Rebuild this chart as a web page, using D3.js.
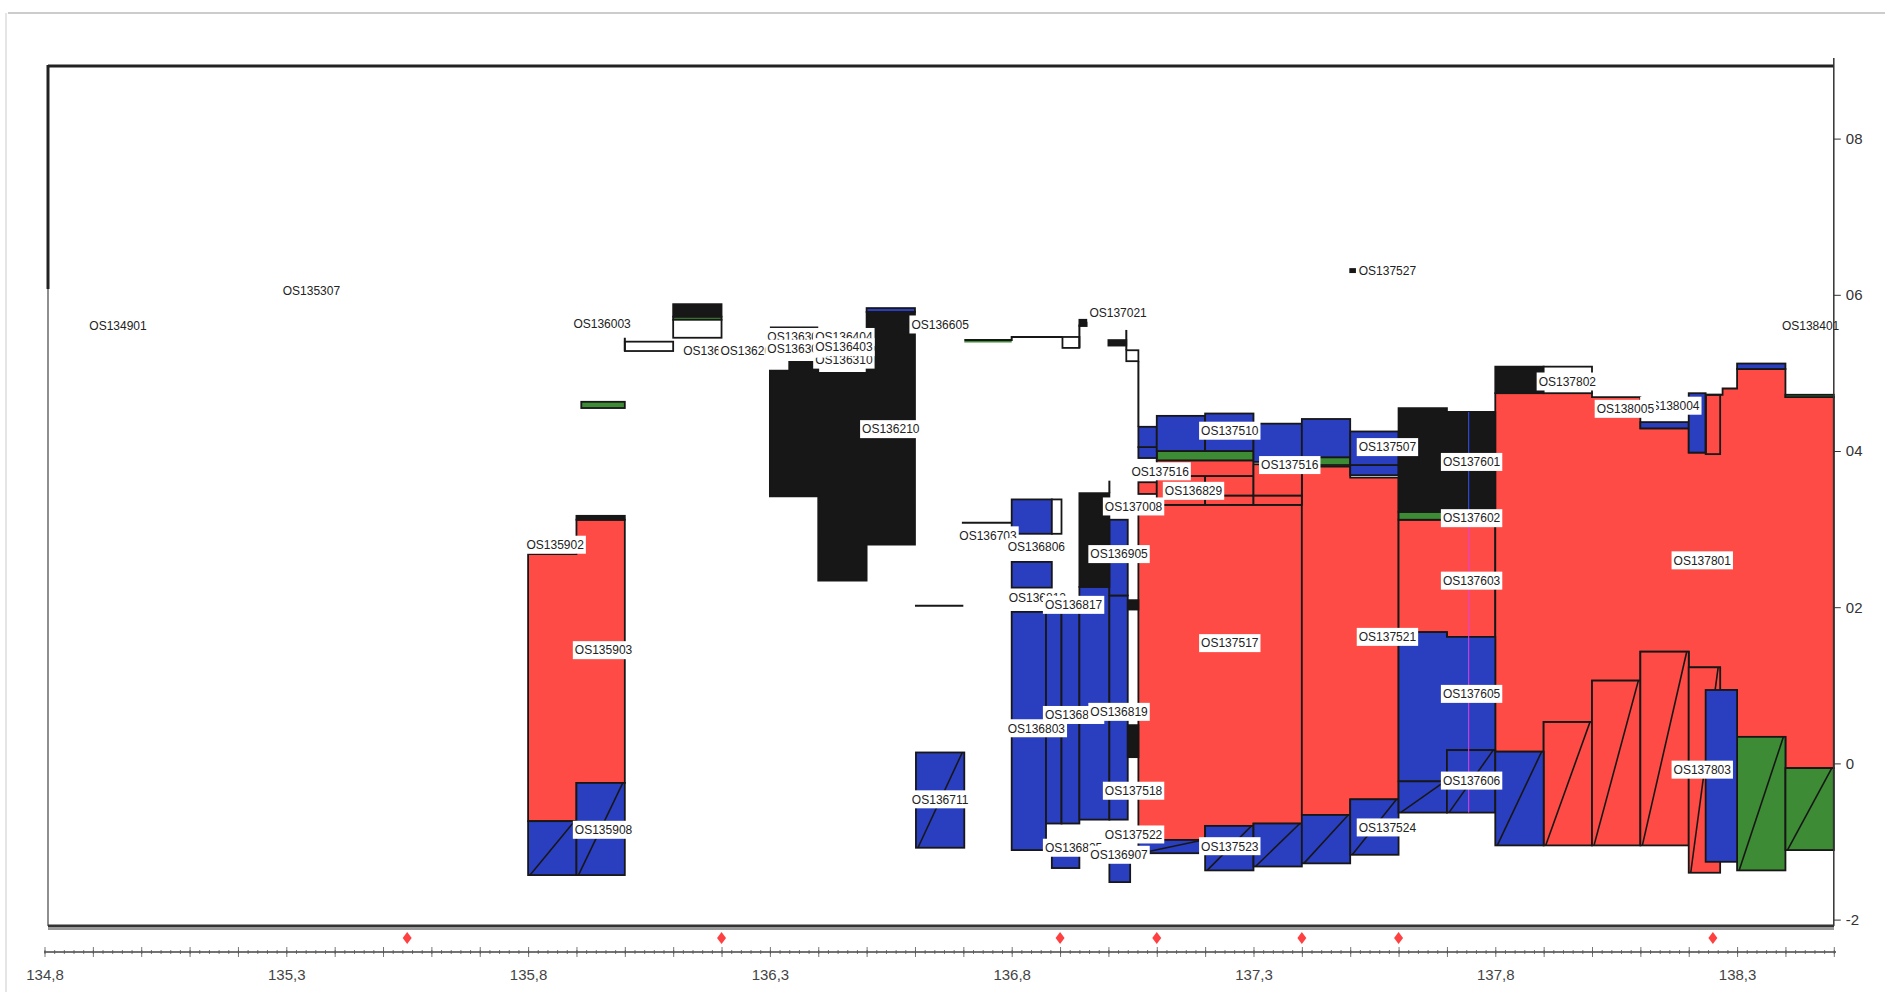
<!DOCTYPE html>
<html>
<head>
<meta charset="utf-8">
<script src="https://cdn.jsdelivr.net/npm/d3@7"></script>
<style>
body { margin: 0; background: #fff; }
text { font-family: "Liberation Sans", Arial, sans-serif; }
</style>
</head>
<body>
<svg id="chart" width="1885" height="992"></svg>
<script>
// axis values
const xTickValues = [134.8, 135.3, 135.8, 136.3, 136.8, 137.3, 137.8, 138.3];
const xTickLabels = ["134,8", "135,3", "135,8", "136,3", "136,8", "137,3", "137,8", "138,3"];
const yTickValues = [8, 6, 4, 2, 0, -2];
const yTickLabels = ["08", "06", "04", "02", "0", "-2"];
const sampleMarks = [135.55, 136.2, 136.9, 137.1, 137.4, 137.6, 138.25];

// big stepped units, [x, y] corners
const redMasses = [
  [[135.80,2.68],[135.90,2.68],[135.90,3.12],[136.00,3.12],[136.00,-0.25],[135.90,-0.25],[135.90,-0.74],[135.80,-0.74]],
  [[137.062,3.31],[137.40,3.31],[137.40,-0.77],[137.30,-0.77],[137.30,-0.80],[137.20,-0.80],[137.20,-0.98],[137.062,-0.98]],
  [[137.40,3.80],[137.50,3.80],[137.50,3.66],[137.60,3.66],[137.60,-0.46],[137.50,-0.46],[137.50,-0.66],[137.40,-0.66]],
  [[137.60,3.12],[137.70,3.12],[137.70,3.15],[137.80,3.15],[137.80,1.62],[137.70,1.62],[137.70,1.68],[137.60,1.68]],
  [[137.80,4.74],[138.00,4.74],[138.00,4.69],[138.10,4.69],[138.10,4.29],[138.20,4.29],[138.20,3.98],[138.235,3.98],
   [138.235,4.72],[138.27,4.72],[138.27,4.80],[138.30,4.80],[138.30,5.05],[138.40,5.05],[138.40,4.69],[138.50,4.69],
   [138.50,-0.06],[138.40,-0.06],[138.40,0.34],[138.30,0.34],[138.30,0.94],[138.265,0.94],[138.265,1.23],[138.20,1.23],
   [138.20,1.43],[138.10,1.43],[138.10,1.06],[138.00,1.06],[138.00,0.53],[137.90,0.53],[137.90,0.15],[137.80,0.15]]
];
const blueMasses = [
  [[137.60,1.68],[137.70,1.68],[137.70,1.62],[137.80,1.62],[137.80,0.17],[137.70,0.17],[137.70,-0.23],[137.60,-0.23]]
];
const blackMasses = [
  [[136.30,5.03],[136.34,5.03],[136.34,5.14],[136.40,5.14],[136.40,5.00],[136.50,5.00],[136.50,5.78],[136.60,5.78],
   [136.60,2.80],[136.50,2.80],[136.50,2.34],[136.40,2.34],[136.40,3.42],[136.30,3.42]],
  [[137.60,4.55],[137.70,4.55],[137.70,4.50],[137.80,4.50],[137.80,3.15],[137.70,3.15],[137.70,3.22],[137.60,3.22]]
];

// beds: [x0, x1, bottom, top]
const redRects = [
  [137.062,137.10,3.45,3.60], [137.10,137.20,3.31,3.68], [137.20,137.30,3.31,3.43], [137.20,137.30,3.43,3.68],
  [137.10,137.30,3.68,3.88], [137.30,137.40,3.31,3.43], [137.30,137.40,3.43,3.83]
];
const redHatch = [
  [137.90,138.00,-1.05,0.53], [138.00,138.10,-1.05,1.06], [138.10,138.20,-1.05,1.43], [138.20,138.265,-1.40,1.23]
];
const greenRects = [
  [135.91,136.00,4.55,4.63], [136.10,136.20,5.68,5.72], [137.10,137.30,3.88,4.00],
  [137.40,137.50,3.82,3.92], [137.60,137.70,3.12,3.22], [138.40,138.50,4.69,4.72]
];
const greenHatch = [
  [138.30,138.40,-1.37,0.34], [138.40,138.50,-1.11,-0.06]
];
const blueRects = [
  [136.80,136.883,2.94,3.38], [136.80,136.883,2.25,2.58], [136.80,136.871,-1.11,1.94], [136.871,136.903,-0.77,1.94],
  [136.903,136.94,-0.77,1.94], [136.94,137.002,-0.72,2.26], [137.002,137.04,-0.72,2.15], [137.002,137.04,2.15,3.12],
  [136.883,136.94,-1.34,-1.15], [137.002,137.045,-1.52,-1.23],
  [137.062,137.10,3.91,4.05], [137.062,137.10,4.05,4.31], [137.10,137.20,4.00,4.45], [137.20,137.30,4.00,4.48],
  [137.30,137.40,3.86,4.35], [137.40,137.50,3.92,4.41], [137.50,137.60,3.69,3.82], [137.50,137.60,3.82,4.25],
  [136.50,136.60,5.78,5.83], [138.10,138.20,4.29,4.37], [138.20,138.235,3.98,4.74], [138.30,138.40,5.05,5.12],
  [138.235,138.30,-1.26,0.94]
];
const blueHatch = [
  [135.80,135.90,-1.43,-0.74], [135.90,136.00,-1.43,-0.25], [136.602,136.702,-1.08,0.14],
  [137.062,137.20,-1.15,-0.98], [137.20,137.30,-1.37,-0.80], [137.30,137.40,-1.32,-0.77],
  [137.40,137.50,-1.28,-0.66], [137.50,137.60,-1.17,-0.46], [137.60,137.70,-0.63,-0.23],
  [137.70,137.80,-0.63,0.17], [137.80,137.90,-1.05,0.15]
];
const blackRects = [
  [135.90,136.00,3.12,3.17], [136.10,136.20,5.72,5.88], [136.94,137.002,2.26,3.46], [137.04,137.062,1.97,2.09],
  [137.04,137.062,0.08,0.49], [137.00,137.037,5.35,5.42], [136.94,136.955,5.60,5.68], [137.80,137.90,4.74,5.08],
  [137.50,137.51,6.29,6.33]
];
const hollowRects = [
  [136.00,136.10,5.28,5.40], [136.10,136.20,5.45,5.68], [136.883,136.903,2.94,3.38],
  [136.905,136.94,5.32,5.46], [137.037,137.062,5.15,5.29], [137.90,138.00,4.74,5.08]
];
const outlineRects = [
  [138.235,138.265,3.96,4.72]
];
const blackLines = [
  [[136.702,5.42],[136.80,5.42],[136.80,5.46],[136.905,5.46]],
  [[136.94,5.32],[136.94,5.62]],
  [[137.037,5.55],[137.037,5.29]],
  [[137.062,5.15],[137.062,4.31]],
  [[136.30,5.58],[136.40,5.58]],
  [[136.60,2.02],[136.70,2.02]],
  [[136.697,3.08],[136.80,3.08]],
  [[136.00,5.28],[136.00,5.45]],
  [[137.002,3.46],[137.002,3.62]]
];
const greenLines = [[[136.702,5.40],[136.80,5.40]]];
const blueLines = [[[137.745,3.15],[137.745,4.50]]];
const pinkLines = [[[137.745,-0.63],[137.745,3.15]]];

// section names: [text, x, y]
const sectionLabels = [
  ["OS134901",134.952,5.60], ["OS135307",135.352,6.05], ["OS136003",135.953,5.63],
  ["OS136605",136.652,5.62], ["OS137021",137.020,5.77], ["OS137527",137.577,6.31], ["OS138401",138.452,5.60],
  ["OS136307",136.354,5.46], ["OS136404",136.453,5.46], ["OS136310",136.453,5.17],
  ["OS136004",136.18,5.29], ["OS136202",136.257,5.29], ["OS136305",136.354,5.31], ["OS136403",136.453,5.33],
  ["OS135902",135.856,2.80], ["OS135903",135.956,1.45], ["OS135908",135.956,-0.85],
  ["OS136210",136.550,4.28], ["OS136703",136.751,2.92], ["OS136806",136.851,2.77],
  ["OS136812",136.853,2.12], ["OS136817",136.928,2.03], ["OS136905",137.022,2.68],
  ["OS137008",137.052,3.29], ["OS137516",137.107,3.74], ["OS136829",137.176,3.49],
  ["OS137510",137.251,4.26], ["OS137516",137.375,3.82], ["OS137507",137.577,4.05],
  ["OS137601",137.751,3.86], ["OS137602",137.751,3.14], ["OS137603",137.751,2.34],
  ["OS137605",137.751,0.89], ["OS137606",137.751,-0.22], ["OS137517",137.251,1.54],
  ["OS137521",137.577,1.62], ["OS137524",137.577,-0.82], ["OS137523",137.251,-1.06],
  ["OS137522",137.052,-0.91], ["OS136825",136.928,-1.08], ["OS136907",137.022,-1.17],
  ["OS137518",137.052,-0.35], ["OS136803",136.851,0.45], ["OS136816",136.928,0.62],
  ["OS136819",137.022,0.66], ["OS136711",136.652,-0.46], ["OS137801",138.228,2.60],
  ["OS137802",137.949,4.89], ["OS138004",138.163,4.58], ["OS138005",138.069,4.54],
  ["OS137803",138.228,-0.08]
];

const RED = "#ff4b45", BLUE = "#2a3ec0", BLACK = "#171717", GREEN = "#3d8b34";

const svg = d3.select("#chart");
const x = d3.scaleLinear().domain([134.8, 138.5]).range([44.5, 1833.8]);
const y = d3.scaleLinear().domain([-2, 8]).range([919.6, 138.6]);

// scan edges
svg.append("line").attr("x1", 8).attr("x2", 1885).attr("y1", 13).attr("y2", 13)
  .attr("stroke", "#bbb").attr("stroke-width", 1.5);
svg.append("line").attr("x1", 6).attr("x2", 6).attr("y1", 13).attr("y2", 992)
  .attr("stroke", "#ddd").attr("stroke-width", 1.5);

const plot = svg.append("g");
const poly = d3.line().x(d => x(d[0])).y(d => y(d[1]));

function drawMasses(list, fill) {
  plot.append("g").selectAll("path").data(list).enter().append("path")
    .attr("d", d => poly(d) + "Z")
    .attr("fill", fill).attr("stroke", BLACK).attr("stroke-width", 1.8)
    .attr("stroke-linejoin", "miter");
}
function drawRects(list, fill, hatch) {
  const g = plot.append("g");
  g.selectAll("rect").data(list).enter().append("rect")
    .attr("x", d => x(d[0])).attr("width", d => x(d[1]) - x(d[0]))
    .attr("y", d => y(d[3])).attr("height", d => y(d[2]) - y(d[3]))
    .attr("fill", fill).attr("stroke", BLACK).attr("stroke-width", 1.8);
  if (hatch) {
    g.selectAll("line").data(list).enter().append("line")
      .attr("x1", d => x(d[0]) + 2).attr("y1", d => y(d[2]))
      .attr("x2", d => x(d[1]) - 2).attr("y2", d => y(d[3]))
      .attr("stroke", BLACK).attr("stroke-width", 1.6);
  }
}
function drawLines(list, color, w) {
  plot.append("g").selectAll("path").data(list).enter().append("path")
    .attr("d", poly).attr("fill", "none").attr("stroke", color).attr("stroke-width", w);
}

drawMasses(redMasses, RED);
drawRects(redRects, RED, false);
drawRects(redHatch, RED, true);
drawRects(greenRects, GREEN, false);
drawRects(greenHatch, GREEN, true);
drawMasses(blueMasses, BLUE);
drawRects(blueRects, BLUE, false);
drawRects(blueHatch, BLUE, true);
drawMasses(blackMasses, BLACK);
drawRects(blackRects, BLACK, false);
drawRects(hollowRects, "#fff", false);
drawRects(outlineRects, "none", false);
drawLines(blackLines, BLACK, 2);
drawLines(greenLines, GREEN, 1.5);
drawLines(blueLines, "#3050ff", 1);
drawLines(pinkLines, "#e040e0", 1);

// labels in white boxes
const lab = plot.append("g").selectAll("g").data(sectionLabels).enter().append("g")
  .attr("transform", d => `translate(${x(d[1])},${y(d[2])})`);
lab.append("rect").attr("fill", "#fff");
lab.append("text").text(d => d[0]).attr("text-anchor", "middle").attr("dy", "0.36em")
  .attr("font-size", 12).attr("fill", "#222");
lab.each(function () {
  const t = d3.select(this).select("text").node().getComputedTextLength();
  d3.select(this).select("rect").attr("x", -t / 2 - 2).attr("width", t + 4).attr("y", -9).attr("height", 18);
});

// frame
svg.append("line").attr("x1", 48).attr("x2", 1834).attr("y1", 66).attr("y2", 66)
  .attr("stroke", "#222").attr("stroke-width", 3);
svg.append("line").attr("x1", 48).attr("x2", 48).attr("y1", 65).attr("y2", 289)
  .attr("stroke", "#222").attr("stroke-width", 3);
svg.append("line").attr("x1", 48).attr("x2", 48).attr("y1", 289).attr("y2", 926)
  .attr("stroke", "#444").attr("stroke-width", 1.2);
svg.append("line").attr("x1", 48).attr("x2", 1834).attr("y1", 926).attr("y2", 926)
  .attr("stroke", "#333").attr("stroke-width", 3);
svg.append("line").attr("x1", 48).attr("x2", 1834).attr("y1", 929).attr("y2", 929)
  .attr("stroke", "#999").attr("stroke-width", 2);

// right axis
const yAxisG = svg.append("g").attr("transform", "translate(1833.8,0)");
yAxisG.call(d3.axisRight(y).tickValues(d3.range(-2, 9, 1)).tickSize(4).tickSizeOuter(0).tickFormat(""));
yAxisG.call(d3.axisRight(y).tickValues(yTickValues).tickSize(7).tickSizeOuter(0)
  .tickFormat((d, i) => yTickLabels[i]));
yAxisG.selectAll(".domain").remove();
yAxisG.append("line").attr("x1", 0).attr("x2", 0).attr("y1", 58).attr("y2", 926)
  .attr("stroke", "#333").attr("stroke-width", 1.5);
yAxisG.selectAll("text").attr("font-size", 15).attr("fill", "#333").attr("x", 12)
  .style("font-family", "'Liberation Sans', Arial, sans-serif");
yAxisG.selectAll("line").attr("stroke", "#333");

// sample markers
svg.append("g").selectAll("path").data(sampleMarks).enter().append("path")
  .attr("d", "M0,-6L4.5,0L0,6L-4.5,0Z")
  .attr("transform", d => `translate(${x(d)},938)`)
  .attr("fill", "#ff4040");

// bottom axis
svg.append("line").attr("x1", 44).attr("x2", 1836).attr("y1", 952).attr("y2", 952)
  .attr("stroke", "#444").attr("stroke-width", 1.5);
const minor = svg.append("g").attr("transform", "translate(0,950)")
  .call(d3.axisBottom(x).tickValues(d3.range(0, 186).map(i => 134.8 + i * 0.02)).tickSize(4).tickSizeOuter(0).tickFormat(""));
const major = svg.append("g").attr("transform", "translate(0,947)")
  .call(d3.axisBottom(x).tickValues(d3.range(0, 38).map(i => 134.8 + i * 0.1)).tickSize(10).tickSizeOuter(0).tickFormat(""));
const lbl = svg.append("g").attr("transform", "translate(0,966)")
  .call(d3.axisBottom(x).tickValues(xTickValues).tickSize(0).tickFormat((d, i) => xTickLabels[i]));
[minor, major, lbl].forEach(g => { g.select(".domain").remove(); g.selectAll("line").attr("stroke", "#555").attr("stroke-width", 0.8); });
lbl.selectAll("text").attr("font-size", 15).attr("fill", "#444")
  .style("font-family", "'Liberation Sans', Arial, sans-serif");
</script>
</body>
</html>
